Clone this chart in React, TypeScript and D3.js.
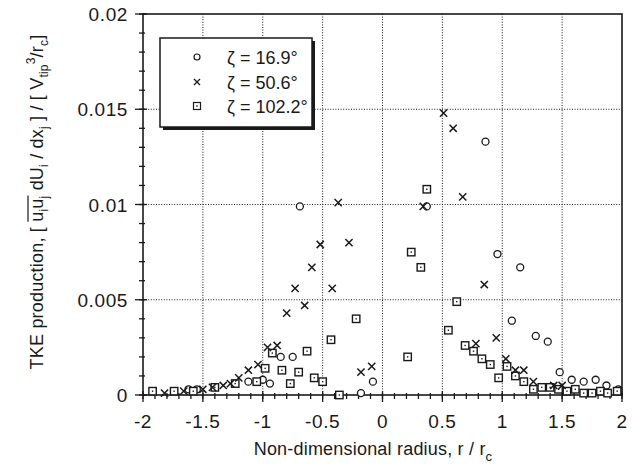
import { useEffect, useRef } from "react";
import * as d3 from "d3";

// chart size and plot area
const width = 633;
const height = 470;
const MARGIN = { top: 14, right: 11, bottom: 75, left: 143 };

// zeta = 16.9 deg (circles)
const radiusCircle = [-1.62, -1.55, -1.12, -1.0, -0.94, -0.85, -0.75, -0.69, -0.18, -0.08, 0.37, 0.86, 0.96, 1.08, 1.15, 1.28, 1.38, 1.48, 1.58, 1.68, 1.78, 1.87, 1.97];
const tkeCircle = [0.0003, 0.0003, 0.0007, 0.0008, 0.0006, 0.002, 0.002, 0.0099, 0.0001, 0.0007, 0.0099, 0.0133, 0.0074, 0.0039, 0.0067, 0.0031, 0.0028, 0.0012, 0.0008, 0.0007, 0.0008, 0.0005, 0.0003];

// zeta = 50.6 deg (crosses)
const radiusCross = [-1.82, -1.66, -1.5, -1.42, -1.33, -1.27, -1.2, -1.12, -1.04, -0.96, -0.88, -0.8, -0.73, -0.65, -0.59, -0.52, -0.42, -0.37, -0.28, -0.18, -0.09, 0.34, 0.51, 0.59, 0.67, 0.78, 0.85, 0.95, 1.03, 1.11, 1.18, 1.26, 1.43, 1.5];
const tkeCross = [0.0001, 0.0002, 0.0003, 0.0004, 0.0005, 0.0006, 0.0009, 0.0013, 0.0016, 0.0025, 0.0026, 0.0043, 0.0056, 0.0047, 0.0067, 0.0079, 0.0056, 0.0101, 0.008, 0.0012, 0.0015, 0.0099, 0.0148, 0.014, 0.0104, 0.0027, 0.0058, 0.003, 0.0019, 0.0013, 0.0013, 0.0007, 0.0005, 0.0005];

// zeta = 102.2 deg (squares)
const radiusSquare = [-1.92, -1.74, -1.58, -1.4, -1.23, -1.05, -0.98, -0.92, -0.84, -0.77, -0.7, -0.63, -0.57, -0.5, -0.43, -0.36, -0.22, 0.21, 0.24, 0.32, 0.37, 0.55, 0.62, 0.69, 0.76, 0.83, 0.9, 0.97, 1.04, 1.11, 1.18, 1.26, 1.33, 1.4, 1.47, 1.54, 1.61, 1.68, 1.75, 1.82, 1.88, 1.96];
const tkeSquare = [0.0002, 0.0002, 0.0002, 0.0004, 0.0006, 0.0007, 0.0014, 0.0022, 0.0013, 0.0006, 0.0012, 0.0023, 0.0009, 0.0007, 0.0029, 0.0, 0.004, 0.002, 0.0075, 0.0067, 0.0108, 0.0034, 0.0049, 0.0026, 0.0023, 0.0019, 0.0016, 0.0009, 0.0015, 0.001, 0.0007, 0.0003, 0.0004, 0.0004, 0.0003, 0.0002, 0.0003, 0.0001, 0.0001, 0.0002, 0.0001, 0.0002];

// axes ticks and legend text
const xTicks = [-2, -1.5, -1, -0.5, 0, 0.5, 1, 1.5, 2];
const yTicks = [0, 0.005, 0.01, 0.015, 0.02];
const legendLabels = ["ζ = 16.9°", "ζ = 50.6°", "ζ = 102.2°"];

const INK = "#1a1a1a";
const FONT = "'Liberation Sans', Arial, sans-serif";

export default function App() {
  const plotRef = useRef<SVGGElement | null>(null);
  const yTitleRef = useRef<SVGTextElement | null>(null);
  const barRef = useRef<SVGLineElement | null>(null);

  useEffect(() => {
    const svg = d3.select(plotRef.current);
    svg.selectAll("*").remove();

    const x = d3.scaleLinear().domain([-2, 2]).range([MARGIN.left, width - MARGIN.right]);
    const y = d3.scaleLinear().domain([0, 0.02]).range([height - MARGIN.bottom, MARGIN.top]);
    const [x0, x1] = x.range();
    const [y0, y1] = y.range();

    // dotted grid
    const grid = svg.append("g").attr("stroke", INK).attr("stroke-width", 1).attr("stroke-dasharray", "1,1.6");
    grid.selectAll("line.gx")
      .data(xTicks.slice(1, -1))
      .join("line")
      .attr("x1", (d) => x(d)).attr("x2", (d) => x(d))
      .attr("y1", y1).attr("y2", y0);
    grid.selectAll("line.gy")
      .data(yTicks.slice(1, -1))
      .join("line")
      .attr("class", "gy")
      .attr("x1", x0).attr("x2", x1)
      .attr("y1", (d) => y(d)).attr("y2", (d) => y(d));

    // frame
    svg.append("rect")
      .attr("x", x0).attr("y", y1)
      .attr("width", x1 - x0).attr("height", y0 - y1)
      .attr("fill", "none").attr("stroke", INK).attr("stroke-width", 1.6);

    // minor ticks
    const ticks = svg.append("g").attr("stroke", INK).attr("stroke-width", 1.3);
    ticks.selectAll("line.mx")
      .data(d3.range(-20, 21).map((i) => i / 10))
      .join("line")
      .attr("x1", (d) => x(d)).attr("x2", (d) => x(d))
      .attr("y1", y0 - 2).attr("y2", y0 + 4);
    ticks.selectAll("line.my")
      .data(d3.range(0, 21).map((i) => i / 1000))
      .join("line")
      .attr("class", "my")
      .attr("x1", x0 - 4).attr("x2", x0 + 2)
      .attr("y1", (d) => y(d)).attr("y2", (d) => y(d));
    // major ticks
    ticks.selectAll("line.Mx")
      .data(xTicks)
      .join("line")
      .attr("class", "Mx")
      .attr("x1", (d) => x(d)).attr("x2", (d) => x(d))
      .attr("y1", y0 - 4).attr("y2", y0 + 7);
    ticks.selectAll("line.My")
      .data(yTicks)
      .join("line")
      .attr("class", "My")
      .attr("x1", x0 - 8).attr("x2", x0 + 4)
      .attr("y1", (d) => y(d)).attr("y2", (d) => y(d));

    // tick labels
    svg.append("g")
      .selectAll("text")
      .data(xTicks)
      .join("text")
      .attr("x", (d) => x(d))
      .attr("y", y0 + 33)
      .attr("text-anchor", "middle")
      .text((d) => String(d));
    svg.append("g")
      .selectAll("text")
      .data(yTicks)
      .join("text")
      .attr("x", x0 - 15)
      .attr("y", (d) => y(d) + 7)
      .attr("text-anchor", "end")
      .text((d) => String(+d.toFixed(3)));

    // markers
    const marks = svg.append("g").attr("stroke", INK).attr("fill", "white").attr("stroke-width", 1.3);
    marks.selectAll("circle.c")
      .data(d3.zip(radiusCircle, tkeCircle))
      .join("circle")
      .attr("class", "c")
      .attr("cx", (d) => x(d[0])).attr("cy", (d) => y(d[1]))
      .attr("r", 3.5);
    const sq = marks.selectAll("g.s")
      .data(d3.zip(radiusSquare, tkeSquare))
      .join("g")
      .attr("class", "s")
      .attr("transform", (d) => `translate(${x(d[0])},${y(d[1])})`);
    sq.append("rect").attr("x", -3.7).attr("y", -3.7).attr("width", 7.4).attr("height", 7.4).attr("stroke-width", 1.4);
    sq.append("rect").attr("x", -0.7).attr("y", -0.7).attr("width", 1.4).attr("height", 1.4).attr("fill", INK).attr("stroke", "none");
    marks.selectAll("path.x")
      .data(d3.zip(radiusCross, tkeCross))
      .join("path")
      .attr("class", "x")
      .attr("fill", "none")
      .attr("stroke-width", 1.5)
      .attr("d", (d) => {
        const cx = x(d[0]);
        const cy = y(d[1]);
        return `M${cx - 3.6},${cy - 3.6}L${cx + 3.6},${cy + 3.6}M${cx - 3.6},${cy + 3.6}L${cx + 3.6},${cy - 3.6}`;
      });

    // legend
    const lg = svg.append("g").attr("transform", "translate(160,38)");
    lg.append("rect").attr("x", 3).attr("y", 3).attr("width", 152).attr("height", 89).attr("fill", INK);
    lg.append("rect").attr("width", 152).attr("height", 89).attr("fill", "white").attr("stroke", INK).attr("stroke-width", 1.5);
    const rowY = [19, 44, 68];
    lg.append("circle").attr("cx", 37).attr("cy", rowY[0]).attr("r", 3).attr("fill", "white").attr("stroke", INK).attr("stroke-width", 1.2);
    lg.append("path")
      .attr("d", `M34,${rowY[1] - 3}L40,${rowY[1] + 3}M34,${rowY[1] + 3}L40,${rowY[1] - 3}`)
      .attr("stroke", INK).attr("stroke-width", 1.3);
    lg.append("rect").attr("x", 33.5).attr("y", rowY[2] - 3.5).attr("width", 7).attr("height", 7).attr("fill", "white").attr("stroke", INK).attr("stroke-width", 1.2);
    lg.append("rect").attr("x", 36.3).attr("y", rowY[2] - 0.7).attr("width", 1.4).attr("height", 1.4).attr("fill", INK);
    lg.selectAll("text.l")
      .data(legendLabels)
      .join("text")
      .attr("x", 67)
      .attr("y", (d, i) => rowY[i] + 6.5)
      .attr("font-size", 18)
      .attr("letter-spacing", 0)
      .text((d) => d);

    // overline above u_i u_j in the y title (chars 18..21)
    const t = yTitleRef.current;
    if (t && barRef.current) {
      const a = t.getStartPositionOfChar(18);
      const b = t.getEndPositionOfChar(21);
      d3.select(barRef.current)
        .attr("x1", a.x).attr("x2", b.x)
        .attr("y1", a.y - 15).attr("y2", a.y - 15);
    }
  }, []);

  return (
    <svg
      width={width}
      height={height}
      style={{ position: "absolute", left: 0, top: 0, background: "white" }}
      fontFamily={FONT}
      fontSize={19}
      letterSpacing={0.6}
      fill={INK}
    >
      <g ref={plotRef} />
      {/* x axis title */}
      <text x={373} y={455} textAnchor="middle" fontSize={18} letterSpacing={0.2}>
        Non-dimensional radius, r / r<tspan dy={6} fontSize={13}>c</tspan>
      </text>
      {/* y axis title, subscripts pushed with dy */}
      <g transform="translate(43,202) rotate(-90)">
        <text ref={yTitleRef} textAnchor="middle" fontSize={18} letterSpacing={0.2}>
          TKE production, [ u<tspan dy={5} fontSize={12}>i</tspan><tspan dy={-5}>u</tspan><tspan dy={5} fontSize={12}>j</tspan>
          <tspan dy={-5}> dU</tspan><tspan dy={5} fontSize={12}>i</tspan>
          <tspan dy={-5}> / dx</tspan><tspan dy={5} fontSize={12}>j</tspan>
          <tspan dy={-5}> ] / [ V</tspan><tspan dy={5} fontSize={12}>tip</tspan>
          <tspan dy={-13} fontSize={12}>3</tspan><tspan dy={8}>/r</tspan>
          <tspan dy={5} fontSize={12}>c</tspan><tspan dy={-5}>]</tspan>
        </text>
        <line ref={barRef} stroke={INK} strokeWidth={1.2} />
      </g>
    </svg>
  );
}
